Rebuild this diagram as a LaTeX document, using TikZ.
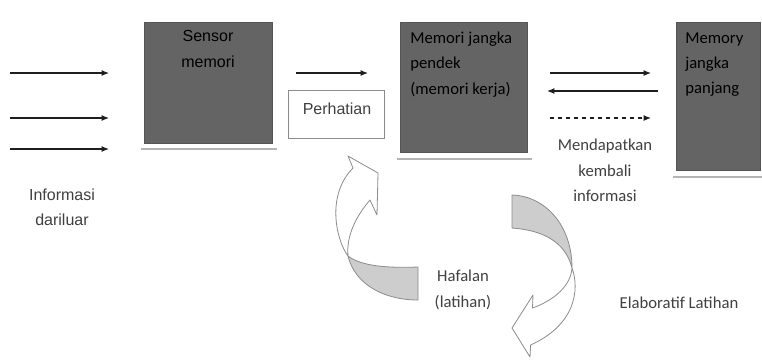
\documentclass[tikz,border=0pt]{standalone}
\usepackage{fontspec}
\setmainfont{Carlito}
\newfontfamily\arialfont{Liberation Sans}
\usetikzlibrary{arrows.meta}
\usepackage{xcolor}
\definecolor{bgColor}{HTML}{ffffff}
\definecolor{fgColor}{HTML}{1e1e1e}
\definecolor{boxFill}{HTML}{646464}
\definecolor{boxText}{HTML}{000000}
\definecolor{labelText}{HTML}{404040}
\definecolor{ribbonEdge}{HTML}{8c8c8c}
\definecolor{ribbonBack}{HTML}{cdcdcd}
\definecolor{shadowColor}{HTML}{b4b4b4}

\begin{document}
\begin{tikzpicture}[x=0.75pt,y=0.75pt,yscale=-1,
	memorybox/.style={draw=boxFill!85!black, fill=boxFill, inner sep=0pt},
	whitebox/.style={draw=ribbonEdge, fill=white, inner sep=0pt, minimum width=72pt, minimum height=36pt},
	boxlabel/.style={inner sep=0pt, font=\fontsize{12.5}{19}\selectfont\color{boxText}},
	plainlabel/.style={text=labelText, inner sep=0pt, align=center, font=\fontsize{12.5}{19}\selectfont},
	arialabel/.style={font=\arialfont\fontsize{12}{19}\selectfont},
	flow/.style={fgColor, line width=0.9pt, -{Latex[length=5.5pt,width=4.5pt]}},
	shadowline/.style={shadowColor, line width=1.5pt},
	ribbon/.style={draw=ribbonEdge, line width=0.6pt, line join=round}]
		\path[use as bounding box, fill=bgColor] (0,0) rectangle (762,362);

		% Boxes
		\node [memorybox, minimum width=96pt,    minimum height=90.75pt] (sensor)    at (208,82.5) {};
		\node [memorybox, minimum width=95.25pt, minimum height=97.5pt]  (pendek)    at (463.5,87) {};
		\node [memorybox, minimum width=63pt,    minimum height=111pt]   (panjang)   at (718,96)   {};
		\node [whitebox] (perhatian) at (336,114) {};

		% Shadow Lines
		\draw [shadowline] (141,149) -- (277,149);
		\draw [shadowline] (397,159) -- (532,159);
		\draw [shadowline] (673,177) -- (762,177);

		% Text Node
		\node [boxlabel, text=boxText, arialabel, align=center] (sensorlabel)  at (208,49)    {Sensor\\memori};
		\node [boxlabel, text=boxText, align=left, anchor=west] (pendeklabel)  at (410,64.5)  {Memori jangka\\pendek\\(memori kerja)};
		\node [boxlabel, text=boxText, align=left, anchor=west] (panjanglabel) at (685,64.5)  {Memory\\jangka\\panjang};
		\node [plainlabel, arialabel]               (perhatianlabel) at (337,109)   {Perhatian};
		\node [plainlabel, arialabel]               (luarlabel)      at (62,207.5)  {Informasi\\dariluar};
		\node [plainlabel]                          (ambillabel)     at (605,170.5) {Mendapatkan\\kembali\\informasi};
		\node [plainlabel]                          (hafalanlabel)   at (463,290)   {Hafalan\\(latihan)};
		\node [plainlabel]                          (elaborlabel)    at (679,303)   {Elaboratif Latihan};

		% Arrow Ends
		\coordinate (luar1) at (10,73);   \coordinate (masuk1) at (109,73);
		\coordinate (luar2) at (10,118);  \coordinate (masuk2) at (109,118);
		\coordinate (luar3) at (10,149);  \coordinate (masuk3) at (109,149);
		\coordinate (saring)  at (296,73);  \coordinate (saringend) at (368,73);
		\coordinate (simpan)  at (550,73);  \coordinate (simpanend) at (651,73);
		\coordinate (balik)   at (658,91);  \coordinate (balikend)  at (547,91);
		\coordinate (ambil)   at (550,118); \coordinate (ambilend)  at (651,118);

		% Straight Arrows
		\draw [flow] (luar1) -- (masuk1);
		\draw [flow] (luar2) -- (masuk2);
		\draw [flow] (luar3) -- (masuk3);
		\draw [flow] (saring) -- (saringend);
		\draw [flow] (simpan) -- (simpanend);
		\draw [flow] (balik) -- (balikend);
		\draw [flow, dashed] (ambil) -- (ambilend);

		% Curved Arrows
		\draw [ribbon, fill=white] (348,256) .. controls (336,240) and (326,195) .. (353,168) -- (348,156) -- (378,173) -- (377,215) -- (370,200) .. controls (357,215) and (346,235) .. (348,256) -- cycle;
		\draw [ribbon, fill=ribbonBack] (348,256) .. controls (362,267) and (392,268) .. (418,267) -- (418,300) .. controls (385,300) and (355,285) .. (348,256) -- cycle;
		\draw [ribbon, fill=ribbonBack] (512,195) .. controls (545,196) and (572,225) .. (572,268) .. controls (565,240) and (540,230) .. (512,228) -- cycle;
		\draw [ribbon, fill=white] (572,268) .. controls (571,285) and (555,300) .. (532.5,308) -- (533,295) -- (512,328) -- (530,357) -- (530.6,345) .. controls (575,325) and (580,290) .. (572,268) -- cycle;
	\end{tikzpicture}
\end{document}
